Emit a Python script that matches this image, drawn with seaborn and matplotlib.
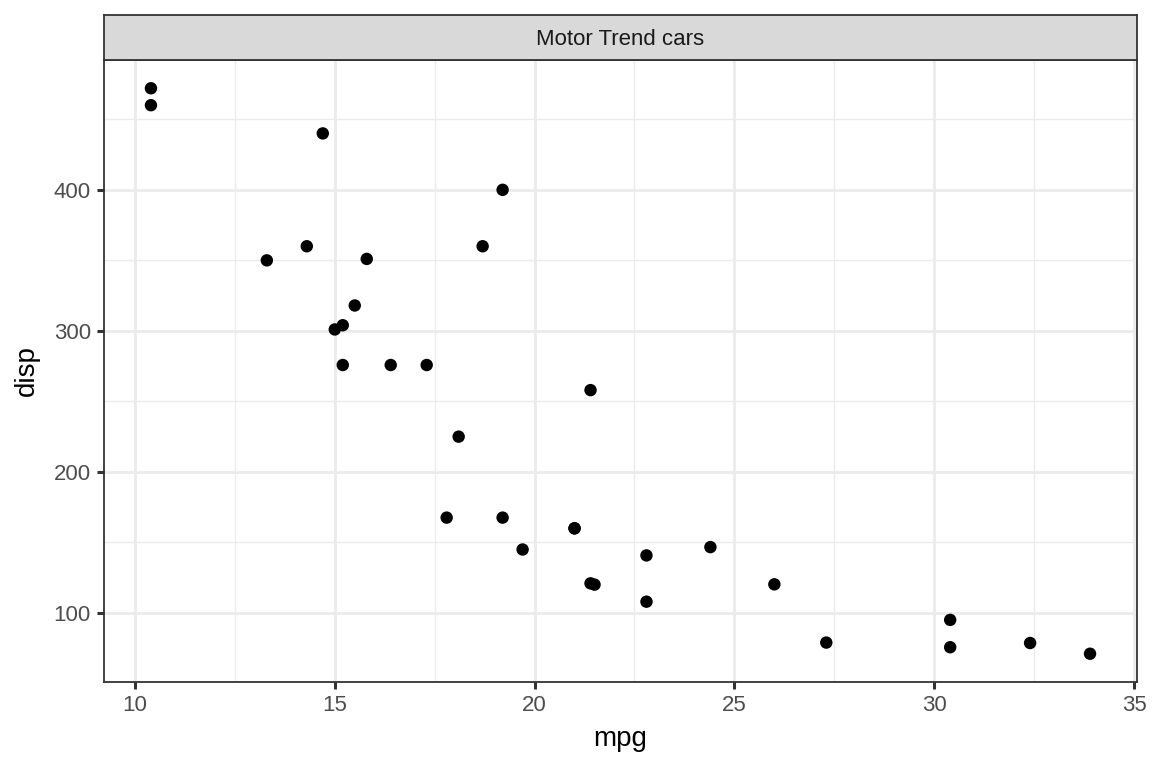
import matplotlib
matplotlib.use("Agg")
import matplotlib.pyplot as plt
import seaborn as sns
import pandas as pd
from matplotlib.ticker import MultipleLocator, FixedLocator

mpg = [21.0, 21.0, 22.8, 21.4, 18.7, 18.1, 14.3, 24.4, 22.8, 19.2, 17.8, 16.4, 17.3, 15.2,
       10.4, 10.4, 14.7, 32.4, 30.4, 33.9, 21.5, 15.5, 15.2, 13.3, 19.2, 27.3, 26.0, 30.4,
       15.8, 19.7, 15.0, 21.4]
disp = [160, 160, 108, 258, 360, 225, 360, 146.7, 140.8, 167.6, 167.6, 275.8, 275.8, 275.8,
        472, 460, 440, 78.7, 75.7, 71.1, 120.1, 318, 304, 350, 400, 79, 120.3, 95.1,
        351, 145, 301, 121]
x_ticks = [10, 15, 20, 25, 30, 35]
y_ticks = [100, 200, 300, 400]
title = "Motor Trend cars"

df = pd.DataFrame({"mpg": mpg, "disp": disp})

sns.set_theme(style="ticks")
plt.rcParams['font.family'] = ['Liberation Sans', 'DejaVu Sans']
plt.rcParams.update({
    'xtick.bottom': True, 'ytick.left': True,
    'xtick.top': False, 'ytick.right': False,
    'xtick.major.size': 5, 'ytick.major.size': 5,
    'xtick.major.width': 2.2, 'ytick.major.width': 2.2,
    'xtick.color': '#333333', 'ytick.color': '#333333',
    'xtick.labelcolor': '#4D4D4D', 'ytick.labelcolor': '#4D4D4D',
    'xtick.direction': 'out', 'ytick.direction': 'out',
    'xtick.minor.size': 0, 'ytick.minor.size': 0,
})

fig = plt.figure(figsize=(11.52, 7.68), dpi=100)
W, H = 1152, 768
PL, PR, PT, PB = 104, 1137, 60, 682
ax = fig.add_axes([PL / W, 1 - PB / H, (PR - PL) / W, (PB - PT) / H])
sax = fig.add_axes([PL / W, 1 - PT / H, (PR - PL) / W, 45 / H])

sns.scatterplot(data=df, x="mpg", y="disp", ax=ax, color="black", s=80,
                edgecolor="none", zorder=3)

xr = max(mpg) - min(mpg)
yr = max(disp) - min(disp)
ax.set_xlim(min(mpg) - 0.05 * xr, max(mpg) + 0.05 * xr)
ax.set_ylim(min(disp) - 0.05 * yr, max(disp) + 0.05 * yr)
ax.set_xticks(x_ticks)
ax.set_yticks(y_ticks)
ax.xaxis.set_minor_locator(MultipleLocator(2.5))
ax.yaxis.set_minor_locator(MultipleLocator(50))
ax.grid(True, which="major", color="#EBEBEB", linewidth=2.0)
ax.grid(True, which="minor", color="#EBEBEB", linewidth=1.0)
ax.set_axisbelow(True)
ax.tick_params(axis="both", which="major", labelsize=16, pad=4.5)
for s in ax.spines.values():
    s.set_visible(True)
    s.set_color("#333333")
    s.set_linewidth(1.3)
ax.set_xlabel("mpg", fontsize=20, color="black")
ax.set_ylabel("disp", fontsize=20, color="black")
ax.xaxis.label.set_va("baseline")
ax.xaxis.set_label_coords(0.5, (PB - 746) / (PB - PT))
ax.yaxis.label.set_va("center")
ax.yaxis.set_label_coords((27 - PL) / (PR - PL), 0.5)

sax.set_facecolor("#D9D9D9")
sax.set_xticks([])
sax.set_yticks([])
sax.tick_params(bottom=False, left=False)
for s in sax.spines.values():
    s.set_visible(True)
    s.set_color("#333333")
    s.set_linewidth(1.3)
sax.text(0.5, (60 - 45) / 45, title, ha="center", va="baseline", fontsize=16,
         color="#1A1A1A", transform=sax.transAxes)

fig.savefig("out.png", dpi=100, facecolor="white")
